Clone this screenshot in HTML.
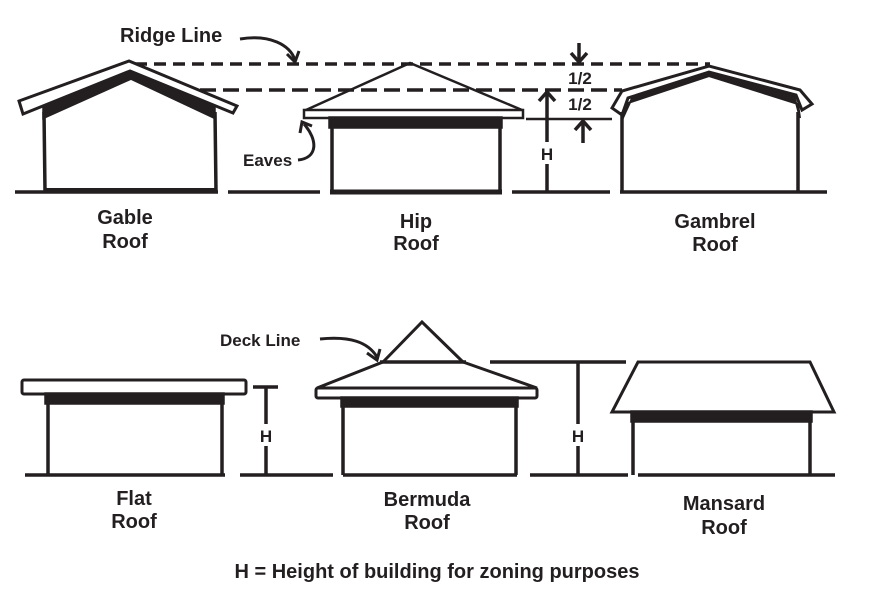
<!DOCTYPE html>
<html><head><meta charset="utf-8"><style>
html,body{margin:0;padding:0;background:#fff}
svg{display:block}
text{font-family:"Liberation Sans",sans-serif;font-weight:bold;fill:#231f20}
</style></head><body>
<svg width="873" height="609" viewBox="0 0 873 609" xmlns="http://www.w3.org/2000/svg">
<g stroke="#231f20" fill="none" stroke-width="3.5" stroke-linecap="butt">
<!-- ground top -->
<line x1="15" y1="192" x2="218" y2="192"/>
<line x1="228" y1="192" x2="320" y2="192"/>
<line x1="330" y1="192" x2="502" y2="192" stroke-width="5"/>
<line x1="512" y1="192" x2="610" y2="192"/>
<line x1="620" y1="192" x2="827" y2="192"/>
<line x1="44" y1="190" x2="216" y2="190" stroke-width="4"/>
<!-- dashes -->
<line x1="135" y1="64" x2="710" y2="64" stroke-dasharray="12,7"/>
<line x1="200" y1="90" x2="622" y2="90" stroke-dasharray="16,7"/>
<!-- gable -->
<line x1="44" y1="112" x2="45" y2="191"/>
<line x1="215" y1="112" x2="216" y2="191"/>
<path d="M44 117 L131 78 L214 117 L214 100 L131 68 L44 104 Z" fill="#231f20"/>
<path d="M19 101 L129 61 L237 106 L233 113 L130 71 L23 114 Z" fill="#fff" stroke-width="3"/>
<!-- hip -->
<path d="M306 110 L410 63 L522 110" stroke-width="2.5"/>
<rect x="304" y="110" width="219" height="8" fill="#fff" stroke-width="2.5"/>
<rect x="330" y="118" width="171" height="9" fill="#231f20"/>
<line x1="332" y1="125" x2="332" y2="192"/>
<line x1="500" y1="125" x2="500" y2="192"/>
<!-- H top -->
<line x1="547" y1="92" x2="547" y2="192"/>
<path d="M539 101 L547 92 L555 101"/>
<line x1="526" y1="119" x2="612" y2="119" stroke-width="2.5"/>
<line x1="579" y1="43" x2="579" y2="62"/>
<path d="M571 53 L579 62 L587 53"/>
<line x1="583" y1="121" x2="583" y2="143"/>
<path d="M575 130 L583 121 L591 130"/>
<!-- gambrel -->
<path d="M622 120 L633 96 L709 69 L794 95 L800 118 L798 104 L709 76 L625 104 Z" fill="#231f20" stroke-width="2"/>
<path d="M612 108 L622 91 L709 66 L800 90 L812 104 L802 110 L796 95 L709 72 L628 98 L622 115 Z" fill="#fff" stroke-width="3"/>
<line x1="622" y1="112" x2="622" y2="192"/>
<line x1="798" y1="112" x2="798" y2="192"/>
<!-- ridge arrow -->
<path d="M240 39 C270 34 290 45 295 60" stroke-width="3"/>
<path d="M287 54 L295 62 L299 51" stroke-width="3"/>
<!-- eaves arrow -->
<path d="M298 160 C318 158 318 140 304 124" stroke-width="3"/>
<path d="M300 133 L302 122 L312 126" stroke-width="3"/>

<!-- bottom ground -->
<line x1="25" y1="475" x2="225" y2="475"/>
<line x1="240" y1="475" x2="333" y2="475"/>
<line x1="343" y1="475" x2="517" y2="475"/>
<line x1="530" y1="475" x2="628" y2="475"/>
<line x1="638" y1="475" x2="835" y2="475"/>
<!-- flat -->
<rect x="22" y="380" width="224" height="14" rx="2" fill="#fff" stroke-width="3"/>
<rect x="46" y="394" width="177" height="9" fill="#231f20"/>
<line x1="48" y1="400" x2="48" y2="475"/>
<line x1="222" y1="400" x2="222" y2="475"/>
<line x1="253" y1="387" x2="278" y2="387"/>
<line x1="266" y1="387" x2="266" y2="475"/>
<!-- bermuda -->
<path d="M383 362 L422 322 L463 362" stroke-width="3"/>
<line x1="380" y1="362" x2="466" y2="362"/>
<path d="M317 388 L383 362 M463 362 L537 388" stroke-width="3"/>
<rect x="316" y="388" width="221" height="10" rx="2" fill="#fff" stroke-width="3"/>
<rect x="342" y="398" width="175" height="8" fill="#231f20"/>
<line x1="343" y1="404" x2="343" y2="475"/>
<line x1="516" y1="404" x2="516" y2="475"/>
<!-- H right -->
<line x1="490" y1="362" x2="626" y2="362"/>
<line x1="578" y1="362" x2="578" y2="475"/>
<!-- mansard -->
<path d="M638 362 L810 362 L834 412 L612 412 Z" fill="#fff" stroke-width="3"/>
<rect x="632" y="412" width="179" height="9" fill="#231f20"/>
<line x1="633" y1="418" x2="633" y2="475"/>
<line x1="810" y1="418" x2="810" y2="475"/>
<!-- deck arrow -->
<path d="M320 339 C350 336 368 342 377 357" stroke-width="3"/>
<path d="M367 353 L377 360 L380 349" stroke-width="3"/>
</g>
<g fill="#fff">
<rect x="538" y="142" width="18" height="22"/>
<rect x="257" y="424" width="18" height="22"/>
<rect x="569" y="424" width="18" height="22"/>
<rect x="566" y="68" width="28" height="18"/>
<rect x="566" y="94" width="28" height="18"/>
</g>
<g font-size="20">
<text x="120" y="42">Ridge Line</text>
<text x="125" y="224" text-anchor="middle">Gable</text>
<text x="125" y="248" text-anchor="middle">Roof</text>
<text x="416" y="228" text-anchor="middle">Hip</text>
<text x="416" y="250" text-anchor="middle">Roof</text>
<text x="715" y="228" text-anchor="middle">Gambrel</text>
<text x="715" y="251" text-anchor="middle">Roof</text>
<text x="134" y="505" text-anchor="middle">Flat</text>
<text x="134" y="528" text-anchor="middle">Roof</text>
<text x="427" y="506" text-anchor="middle">Bermuda</text>
<text x="427" y="529" text-anchor="middle">Roof</text>
<text x="724" y="510" text-anchor="middle">Mansard</text>
<text x="724" y="534" text-anchor="middle">Roof</text>
<text x="437" y="578" text-anchor="middle">H = Height of building for zoning purposes</text>
</g>
<g font-size="17">
<text x="243" y="166">Eaves</text>
<text x="220" y="346">Deck Line</text>
<text x="580" y="84" text-anchor="middle">1/2</text>
<text x="580" y="110" text-anchor="middle">1/2</text>
<text x="547" y="160" text-anchor="middle">H</text>
<text x="266" y="442" text-anchor="middle">H</text>
<text x="578" y="442" text-anchor="middle">H</text>
</g>
</svg>
</body></html>
